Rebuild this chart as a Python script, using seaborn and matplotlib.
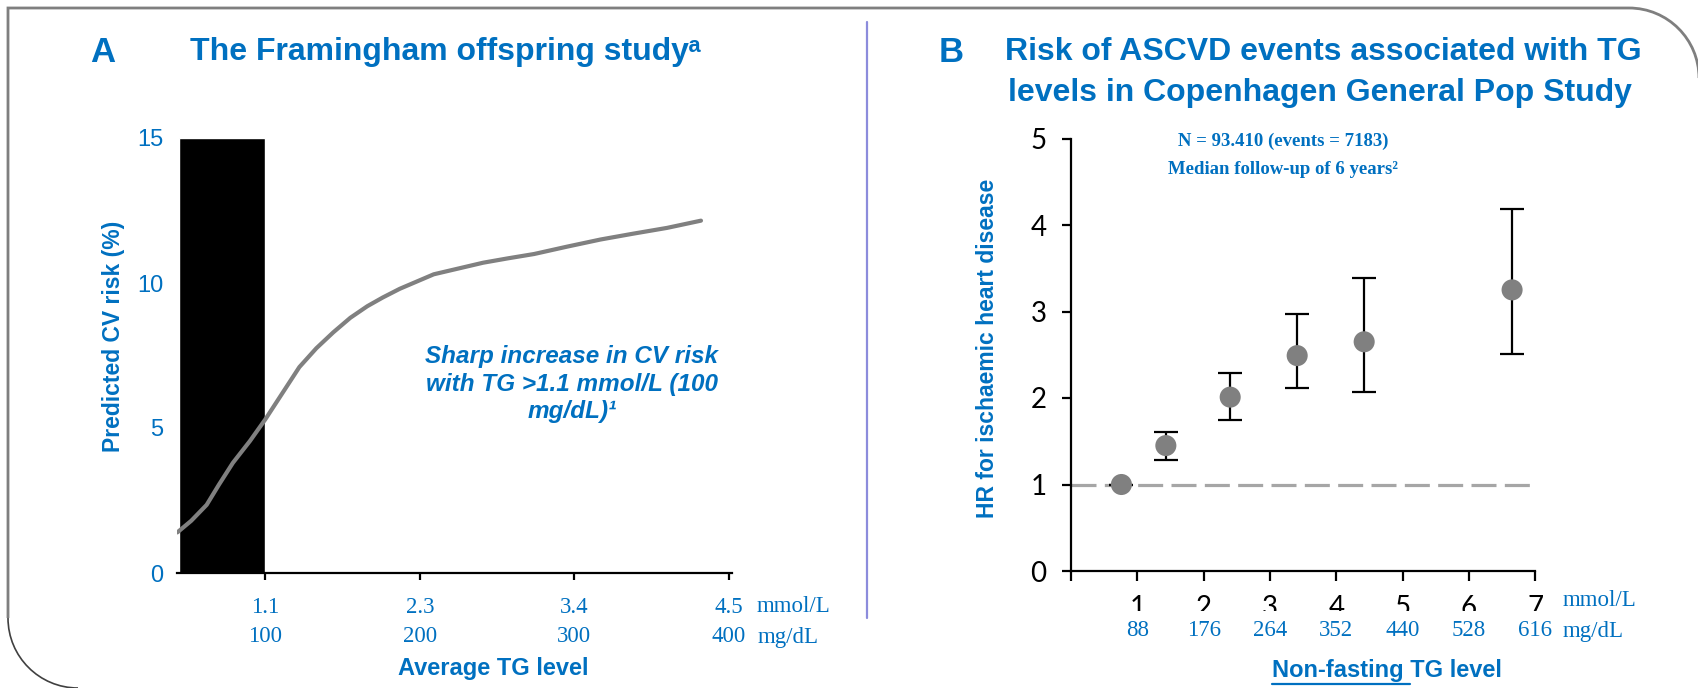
import numpy as np
import pandas as pd
import matplotlib
matplotlib.use("Agg")
import matplotlib.pyplot as plt
import seaborn as sns
from matplotlib.path import Path
from matplotlib.patches import PathPatch, Rectangle
from matplotlib.lines import Line2D
import matplotlib.transforms as mtransforms

# ---------------- Panel A data (Framingham offspring study) ----------------
curve_tg_mgdl = [43, 52, 62, 70, 79, 90, 100, 111, 122, 133, 144, 155, 166, 176, 187,
                 198, 209, 225, 241, 257, 274, 295, 317, 338, 360, 382]
curve_risk_pct = [1.4, 1.8, 2.35, 3.05, 3.8, 4.55, 5.3, 6.2, 7.1, 7.75, 8.3, 8.8, 9.2, 9.5, 9.8,
                  10.05, 10.3, 10.5, 10.7, 10.85, 11.0, 11.25, 11.5, 11.7, 11.9, 12.15]
bar_start_mgdl = 44
bar_end_mgdl = 100
bar_height_pct = 15
a_tick_mgdl = [100, 200, 300, 400]
a_tick_mmol = ["1.1", "2.3", "3.4", "4.5"]
a_yticks = [0, 5, 10, 15]

# ---------------- Panel B data (Copenhagen General Population Study) -------
b_tg_mmol = [0.76, 1.43, 2.40, 3.41, 4.42, 6.65]
b_hr = [1.00, 1.45, 2.01, 2.49, 2.65, 3.25]
b_ci_low = [1.00, 1.28, 1.75, 2.12, 2.07, 2.51]
b_ci_high = [1.00, 1.61, 2.29, 2.97, 3.39, 4.19]
b_tick_mmol = [1, 2, 3, 4, 5, 6, 7]
b_tick_mgdl = [88, 176, 264, 352, 440, 528, 616]
b_yticks = [0, 1, 2, 3, 4, 5]
reference_hr = 1

BLUE = "#0070C0"
GRAY = "#808080"

sns.set_theme(style="white")
plt.rcParams["font.family"] = ["Liberation Sans", "DejaVu Sans"]
plt.rcParams["lines.scale_dashes"] = False

W, H = 1699, 688
fig = plt.figure(figsize=(W / 100, H / 100), dpi=100)
fig.patch.set_facecolor("white")


def fx(x):
    return x / W


def fy(y):
    return 1 - y / H


SANS = ["Liberation Sans", "DejaVu Sans"]
SERIF = ["Liberation Serif", "DejaVu Serif"]
TICKB = ["Lato", "DejaVu Sans"]

# ======================= Panel A =======================
axA = fig.add_axes([fx(177), fy(573), (732.5 - 177) / W, (573 - 138) / H])
axA.set_xlim(42.8, 402.4)
axA.set_ylim(0, 15)
axA.bar(bar_start_mgdl, bar_height_pct, width=bar_end_mgdl - bar_start_mgdl,
        align="edge", color="black", zorder=1)
dfA = pd.DataFrame({"tg": curve_tg_mgdl, "risk": curve_risk_pct})
sns.lineplot(data=dfA, x="tg", y="risk", ax=axA, color=GRAY, lw=3.0,
             solid_capstyle="round", solid_joinstyle="round", zorder=3)
axA.set_xlabel("")
axA.set_ylabel("")
for s in ["left", "top", "right"]:
    axA.spines[s].set_visible(False)
axA.spines["bottom"].set_color("black")
axA.spines["bottom"].set_linewidth(1.6)
axA.set_xticks(a_tick_mgdl, labels=a_tick_mmol, fontfamily=SERIF, fontsize=16.5, color=BLUE)
axA.tick_params(axis="x", which="major", direction="out", length=5, width=1.6,
                color="black", pad=12, bottom=True)
axA.set_yticks(a_yticks, labels=[str(v) for v in a_yticks], fontsize=17, color=BLUE)
axA.tick_params(axis="y", length=0, pad=10, left=False)
tA = mtransforms.blended_transform_factory(axA.transData, fig.transFigure)
for m in a_tick_mgdl:
    axA.text(m, fy(637), str(m), transform=tA, ha="center", va="center",
             fontfamily=SERIF, fontsize=16.5, color=BLUE, clip_on=False)
fig.text(fx(757), fy(607), "mmol/L", ha="left", va="center", fontfamily=SERIF,
         fontsize=16.5, color=BLUE)
fig.text(fx(758), fy(637), "mg/dL", ha="left", va="center", fontfamily=SERIF,
         fontsize=16.5, color=BLUE)

fig.text(fx(114), fy(336), "Predicted CV risk (%)", rotation=90, ha="center", va="center",
         fontsize=16.5, fontweight="bold", color=BLUE)
fig.text(fx(493), fy(668), "Average TG level", ha="center", va="center",
         fontsize=17, fontweight="bold", color=BLUE)

fig.text(fx(103), fy(52), "A", ha="center", va="center", fontsize=25,
         fontweight="bold", color=BLUE)
fig.text(fx(190), fy(52), "The Framingham offspring study\u1d43", ha="left", va="center",
         fontsize=23, fontweight="bold", color=BLUE, family=SANS)

ann_lines = ["Sharp increase in CV risk", "with TG >1.1 mmol/L (100", "mg/dL)\u00b9"]
for i, line in enumerate(ann_lines):
    fig.text(fx(572), fy(356 + 28 * i), line, ha="center", va="center", fontsize=17.5,
             fontweight="bold", fontstyle="italic", color=BLUE)

# ======================= Panel B =======================
axB = fig.add_axes([fx(1071), fy(571), 464.3 / W, 432.5 / H])
axB.set_xlim(0, 7)
axB.set_ylim(0, 5)
axB.axhline(reference_hr, color="#A6A6A6", lw=2.3, dashes=(18, 6), zorder=1)
hr = np.array(b_hr)
lo = np.array(b_ci_low)
hi = np.array(b_ci_high)
axB.errorbar(b_tg_mmol, b_hr, yerr=[hr - lo, hi - hr], fmt="none", ecolor="black",
             elinewidth=1.6, capsize=8.5, capthick=1.6, zorder=2)
dfB = pd.DataFrame({"tg": b_tg_mmol, "hr": b_hr})
sns.scatterplot(data=dfB, x="tg", y="hr", ax=axB, s=230, color=GRAY,
                edgecolor="none", linewidth=0, zorder=3)
axB.set_xlabel("")
axB.set_ylabel("")
for s in ["top", "right"]:
    axB.spines[s].set_visible(False)
for s in ["left", "bottom"]:
    axB.spines[s].set_color("black")
    axB.spines[s].set_linewidth(1.6)
axB.set_xticks([0] + b_tick_mmol, labels=[""] + [str(v) for v in b_tick_mmol],
              fontfamily=TICKB, fontsize=20, color="black")
axB.tick_params(axis="x", direction="out", length=7, width=1.6, color="black",
                pad=10, bottom=True)
axB.set_yticks(b_yticks, labels=[str(v) for v in b_yticks],
              fontfamily=TICKB, fontsize=20, color="black")
axB.tick_params(axis="y", direction="out", length=6.5, width=1.6, color="black",
                pad=11, left=True)

# white band partly hiding the mmol/L digits, as in the original slide
axB.add_patch(Rectangle((fx(1085), fy(655)), (1560 - 1085) / W, (655 - 611) / H,
                        transform=fig.transFigure, facecolor="white", edgecolor="none",
                        zorder=5, clip_on=False))
tB = mtransforms.blended_transform_factory(axB.transData, fig.transFigure)
for xv, m in zip(b_tick_mmol, b_tick_mgdl):
    axB.text(xv, fy(631), str(m), transform=tB, ha="center", va="center",
             fontfamily=SERIF, fontsize=16.5, color=BLUE, clip_on=False, zorder=6)
fig.text(fx(1563), fy(600), "mmol/L", ha="left", va="center", fontfamily=SERIF,
         fontsize=16.5, color=BLUE)
fig.text(fx(1563), fy(631), "mg/dL", ha="left", va="center", fontfamily=SERIF,
         fontsize=16.5, color=BLUE)

fig.text(fx(988), fy(348), "HR for ischaemic heart disease", rotation=90, ha="center",
         va="center", fontsize=16.5, fontweight="bold", color=BLUE)
xlabB = fig.text(fx(1387), fy(671), "Non-fasting TG level", ha="center", va="center",
                 fontsize=17, fontweight="bold", color=BLUE)

fig.text(fx(951), fy(52), "B", ha="center", va="center", fontsize=25,
         fontweight="bold", color=BLUE)
fig.text(fx(1323), fy(52), "Risk of ASCVD events associated with TG", ha="center",
         va="center", fontsize=23, fontweight="bold", color=BLUE)
fig.text(fx(1320), fy(93), "levels in Copenhagen General Pop Study", ha="center",
         va="center", fontsize=23, fontweight="bold", color=BLUE)

fig.text(fx(1283), fy(141), "N = 93.410 (events = 7183)", ha="center", va="center",
         fontfamily=SERIF, fontsize=13.5, fontweight="bold", color=BLUE)
fig.text(fx(1283), fy(169), "Median follow-up of 6 years\u00b2", ha="center", va="center",
         fontfamily=SERIF, fontsize=13.5, fontweight="bold", color=BLUE)

# ======================= Decorations =======================
# divider
fig.add_artist(Line2D([fx(867), fx(867)], [fy(22), fy(618)], color="#8C8CDC", lw=1.6,
                      transform=fig.transFigure))

# slide frame with rounded corners (top-right and bottom-left)
r_c = 70
k = 0.5523 * r_c
frame_pts = [(8, 618), (8, 8), (1699 - r_c, 8), (1699 - r_c + k, 8), (1699, 8 + r_c - k),
             (1699, 8 + r_c)]
codes = [Path.MOVETO, Path.LINETO, Path.LINETO, Path.CURVE4, Path.CURVE4, Path.CURVE4]
verts = [(fx(x), fy(y)) for x, y in frame_pts]
fig.add_artist(PathPatch(Path(verts, codes), facecolor="none", edgecolor="#7F7F7F", lw=2,
                         transform=fig.transFigure))
bl_pts = [(8, 618), (8, 618 + k), (8 + r_c - k, 688), (8 + r_c, 688)]
codes2 = [Path.MOVETO, Path.CURVE4, Path.CURVE4, Path.CURVE4]
fig.add_artist(PathPatch(Path([(fx(x), fy(y)) for x, y in bl_pts], codes2), facecolor="none",
                         edgecolor="#404040", lw=1.2, transform=fig.transFigure))

# underline "Non-fasting " in the panel B axis title
fig.canvas.draw()
rend = fig.canvas.get_renderer()
bb = xlabB.get_window_extent(rend)
tmp = fig.text(0, 0, "Non-fasting ", fontsize=17, fontweight="bold")
wpart = tmp.get_window_extent(rend).width
tmp.remove()
yu = (bb.y0 - 1) / H
fig.add_artist(Line2D([bb.x0 / W, (bb.x0 + wpart) / W], [yu, yu], color=BLUE, lw=1.6,
                      transform=fig.transFigure))

fig.savefig("out.png", dpi=100, facecolor="white")
